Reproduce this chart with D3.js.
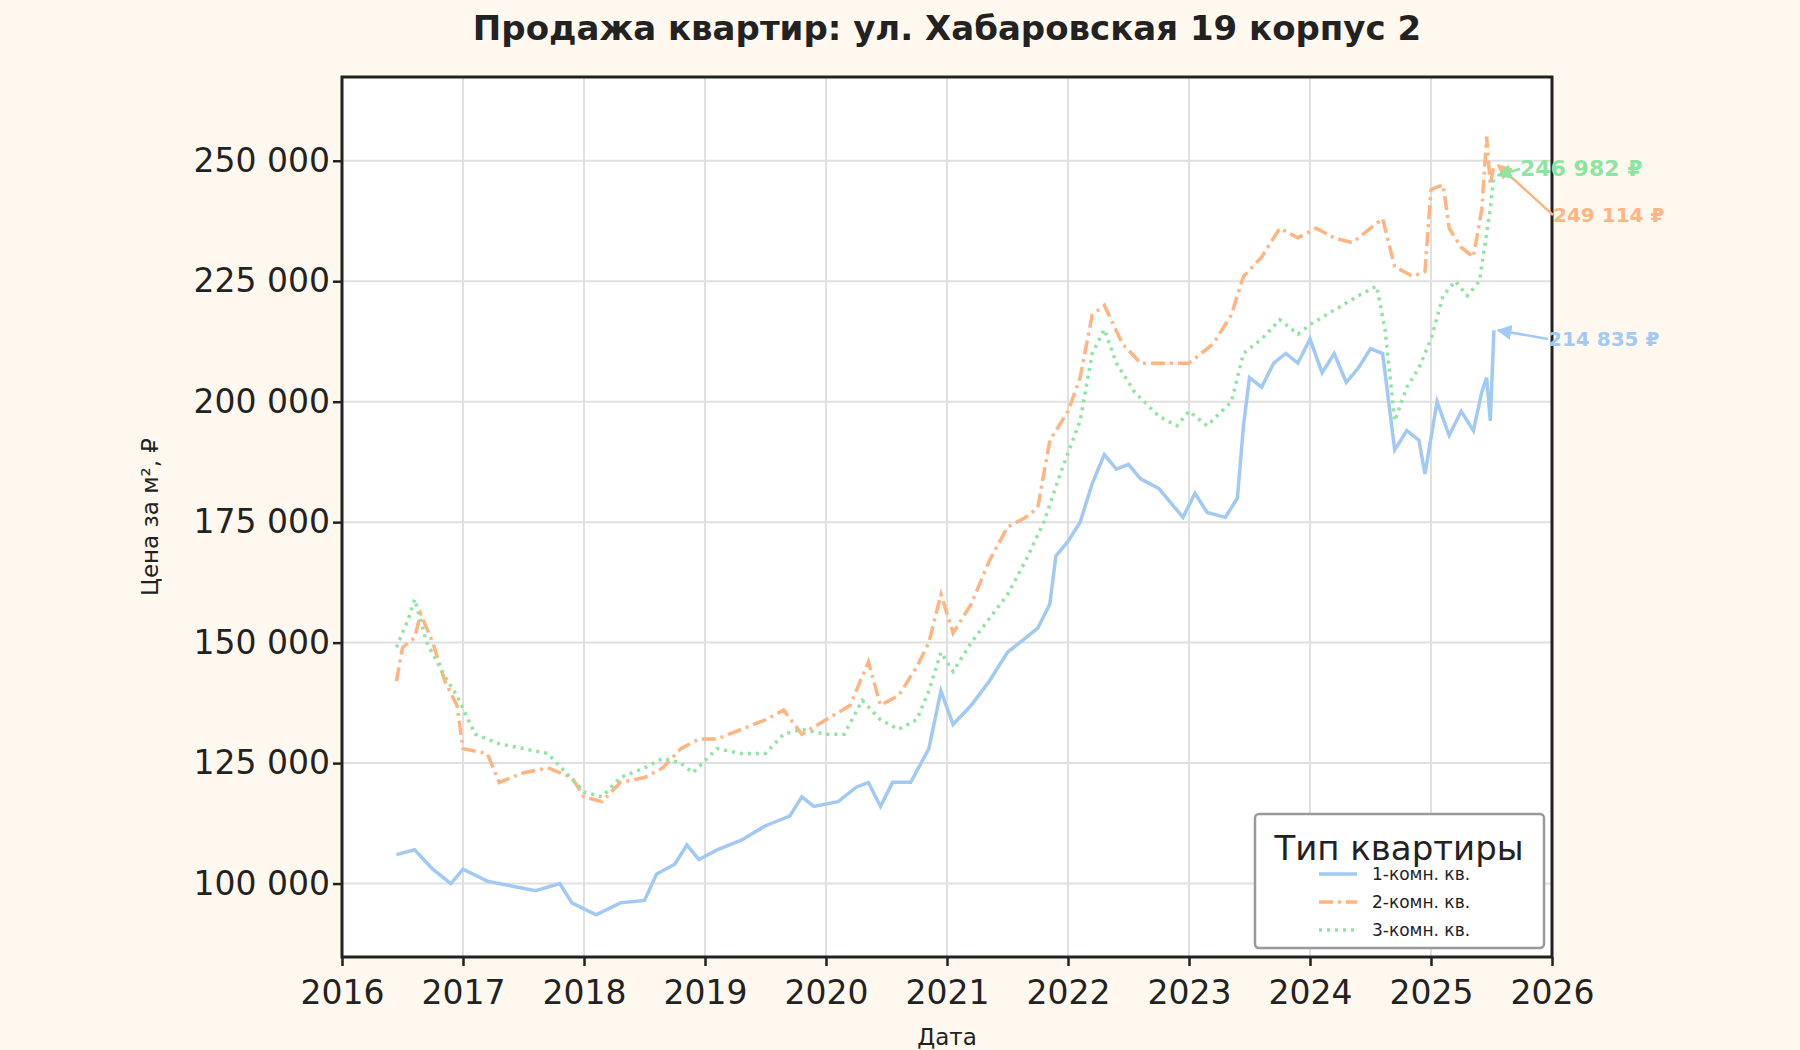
<!DOCTYPE html>
<html><head><meta charset="utf-8">
<script src="https://cdn.jsdelivr.net/npm/d3@7"></script>
<style>body{margin:0;background:#fff8ee;font-family:"DejaVu Sans",sans-serif}</style>
</head><body><svg id="chart" width="1800" height="1050"></svg>
<script>
// fractional years and price per m2
let years1 = [2016.45,2016.6,2016.75,2016.9,2017.0,2017.2,2017.4,2017.6,2017.8,2017.9,2018.1,2018.3,2018.5,2018.6,2018.75,2018.85,2018.95,2019.1,2019.3,2019.5,2019.7,2019.8,2019.9,2020.1,2020.25,2020.35,2020.45,2020.55,2020.7,2020.85,2020.95,2021.05,2021.2,2021.35,2021.5,2021.65,2021.75,2021.85,2021.9,2022.0,2022.1,2022.2,2022.3,2022.4,2022.5,2022.6,2022.75,2022.85,2022.95,2023.05,2023.15,2023.3,2023.4,2023.45,2023.5,2023.6,2023.7,2023.8,2023.9,2024.0,2024.1,2024.2,2024.3,2024.4,2024.5,2024.6,2024.65,2024.7,2024.8,2024.9,2024.95,2025.05,2025.15,2025.25,2025.35,2025.42,2025.46,2025.49,2025.52];
let price1 = [106000,107000,103000,100000,103000,100500,99500,98500,100000,96000,93500,96000,96500,102000,104000,108000,105000,107000,109000,112000,114000,118000,116000,117000,120000,121000,116000,121000,121000,128000,140000,133000,137000,142000,148000,151000,153000,158000,168000,171000,175000,183000,189000,186000,187000,184000,182000,179000,176000,181000,177000,176000,180000,195000,205000,203000,208000,210000,208000,213000,206000,210000,204000,207000,211000,210000,200000,190000,194000,192000,185000,200000,193000,198000,194000,202000,205000,196000,214835];
let years2 = [2016.45,2016.5,2016.6,2016.65,2016.75,2016.85,2016.95,2017.0,2017.2,2017.3,2017.5,2017.7,2017.9,2018.0,2018.15,2018.3,2018.5,2018.65,2018.8,2018.95,2019.1,2019.3,2019.5,2019.65,2019.8,2020.0,2020.2,2020.35,2020.45,2020.6,2020.75,2020.85,2020.95,2021.05,2021.2,2021.35,2021.5,2021.65,2021.75,2021.85,2022.0,2022.1,2022.2,2022.3,2022.45,2022.6,2022.8,2023.0,2023.2,2023.35,2023.45,2023.6,2023.75,2023.9,2024.05,2024.2,2024.35,2024.5,2024.6,2024.7,2024.85,2024.95,2025.0,2025.1,2025.15,2025.25,2025.35,2025.42,2025.46,2025.49,2025.52];
let price2 = [142000,149000,151000,156000,150000,142000,137000,128000,127000,121000,123000,124000,122000,118000,117000,121000,122000,124000,128000,130000,130000,132000,134000,136000,131000,134000,137000,146000,137000,139000,145000,150000,160000,152000,158000,167000,174000,176000,178000,192000,198000,205000,218000,220000,212000,208000,208000,208000,212000,218000,226000,230000,236000,234000,236000,234000,233000,236000,238000,228000,226000,227000,244000,245000,236000,232000,230000,240000,255000,245000,249114];
let years3 = [2016.45,2016.55,2016.6,2016.7,2016.85,2016.95,2017.1,2017.3,2017.5,2017.7,2017.85,2018.0,2018.15,2018.3,2018.5,2018.65,2018.8,2018.9,2019.1,2019.3,2019.5,2019.65,2019.8,2020.0,2020.15,2020.3,2020.45,2020.6,2020.75,2020.85,2020.95,2021.05,2021.2,2021.35,2021.5,2021.65,2021.8,2021.95,2022.1,2022.2,2022.3,2022.4,2022.55,2022.75,2022.9,2023.0,2023.15,2023.35,2023.45,2023.6,2023.75,2023.9,2024.0,2024.2,2024.4,2024.55,2024.62,2024.7,2024.8,2024.9,2025.0,2025.1,2025.2,2025.3,2025.4,2025.46,2025.49,2025.52];
let price3 = [149000,155000,159000,150000,143000,139000,131000,129000,128000,127000,123000,119000,118000,122000,124000,126000,125000,123000,128000,127000,127000,131000,132000,131000,131000,138000,134000,132000,134000,140000,148000,144000,150000,155000,160000,167000,175000,186000,196000,210000,215000,208000,202000,197000,195000,198000,195000,200000,210000,213000,217000,214000,216000,219000,222000,224000,215000,196000,203000,207000,213000,222000,225000,222000,225000,235000,240000,246982];
let seriesNames = ["1-комн. кв.","2-комн. кв.","3-комн. кв."];
let colors = ["#a1c9f4","#ffb482","#8de5a1"];
let dashes = ["none","14,5,3,5","3,5"];
let yTicks = [100000,125000,150000,175000,200000,225000,250000];
let xTicks = d3.range(2016, 2027);

let svg = d3.select("#chart");
let m = {l:342, r:1552, t:77, b:957};
let x = d3.scaleLinear().domain([2016, 2026]).range([m.l, m.r]);
let y = d3.scaleLinear().domain([84760, 267380]).range([m.b, m.t]);
let fmt = v => d3.format(",")(v).replace(/,/g, " ");

svg.append("rect").attr("x",m.l).attr("y",m.t).attr("width",m.r-m.l).attr("height",m.b-m.t).attr("fill","#fff");

let grid = svg.append("g").attr("stroke","#e0e0e0").attr("stroke-width",2);
xTicks.forEach(t => grid.append("line").attr("x1",x(t)).attr("x2",x(t)).attr("y1",m.t).attr("y2",m.b));
yTicks.forEach(t => grid.append("line").attr("x1",m.l).attr("x2",m.r).attr("y1",y(t)).attr("y2",y(t)));

let xAxis = svg.append("g").attr("transform",`translate(0,${m.b})`)
  .call(d3.axisBottom(x).tickValues(xTicks).tickFormat(d3.format("d")).tickSize(9).tickSizeOuter(0));
let yAxis = svg.append("g").attr("transform",`translate(${m.l},0)`)
  .call(d3.axisLeft(y).tickValues(yTicks).tickFormat(fmt).tickSize(9).tickSizeOuter(0));
[xAxis, yAxis].forEach(a => {
  a.select(".domain").remove();
  a.selectAll("line").attr("stroke","#222").attr("stroke-width",2.5);
  a.selectAll("text").attr("font-size",33).attr("fill","#222").attr("font-family","DejaVu Sans");
});
xAxis.selectAll("text").attr("dy","1.05em");

let line = d3.line().x(d => x(d[0])).y(d => y(d[1]));
let all = [[years1,price1],[years2,price2],[years3,price3]];
all.forEach((s, i) => {
  svg.append("path").datum(d3.zip(s[0], s[1])).attr("d", line)
    .attr("fill","none").attr("stroke",colors[i]).attr("stroke-width",3.5)
    .attr("stroke-dasharray",dashes[i]);
});

svg.append("rect").attr("x",m.l).attr("y",m.t).attr("width",m.r-m.l).attr("height",m.b-m.t)
  .attr("fill","none").attr("stroke","#222").attr("stroke-width",3);

// end labels with arrows
let defs = svg.append("defs");
let labelPos = [[1548,346],[1553,222],[1520,176]];
all.forEach((s, i) => {
  let lx = x(s[0][s[0].length-1]), ly = y(s[1][s[1].length-1]);
  defs.append("marker").attr("id","ar"+i).attr("viewBox","0 0 10 10").attr("refX",9).attr("refY",5)
    .attr("markerWidth",6).attr("markerHeight",6).attr("orient","auto")
    .append("path").attr("d","M0,0L10,5L0,10z").attr("fill",colors[i]);
  let [tx, ty] = labelPos[i];
  svg.append("line").attr("x1",tx).attr("y1",ty-7).attr("x2",lx+4).attr("y2",ly)
    .attr("stroke",colors[i]).attr("stroke-width",2.5).attr("marker-end",`url(#ar${i})`);
  svg.append("text").attr("x",tx).attr("y",ty).attr("fill",colors[i]).attr("font-weight","bold")
    .attr("font-size", i==2 ? 22 : 20)
    .text(fmt(s[1][s[1].length-1]) + " ₽");
});

svg.append("text").attr("x",(m.l+m.r)/2).attr("y",40).attr("text-anchor","middle")
  .attr("font-size",34).attr("font-weight","bold").attr("fill","#222")
  .text("Продажа квартир: ул. Хабаровская 19 корпус 2");
svg.append("text").attr("x",947).attr("y",1045).attr("text-anchor","middle").attr("font-size",23).attr("fill","#222").text("Дата");
svg.append("text").attr("transform","translate(158,517) rotate(-90)").attr("text-anchor","middle")
  .attr("font-size",23).attr("fill","#222").text("Цена за м², ₽");

// legend
let lg = svg.append("g").attr("transform","translate(1255,814)");
lg.append("rect").attr("width",289).attr("height",134).attr("rx",4).attr("fill","#fff")
  .attr("stroke","#999").attr("stroke-width",2.5);
lg.append("text").attr("x",144).attr("y",46).attr("text-anchor","middle").attr("font-size",34).attr("fill","#222").text("Тип квартиры");
seriesNames.forEach((n, i) => {
  let yy = 60 + i*28;
  lg.append("line").attr("x1",64).attr("x2",102).attr("y1",yy).attr("y2",yy)
    .attr("stroke",colors[i]).attr("stroke-width",3.5).attr("stroke-dasharray",dashes[i]);
  lg.append("text").attr("x",117).attr("y",yy+6).attr("font-size",17).attr("fill","#222").text(n);
});
</script></body></html>
